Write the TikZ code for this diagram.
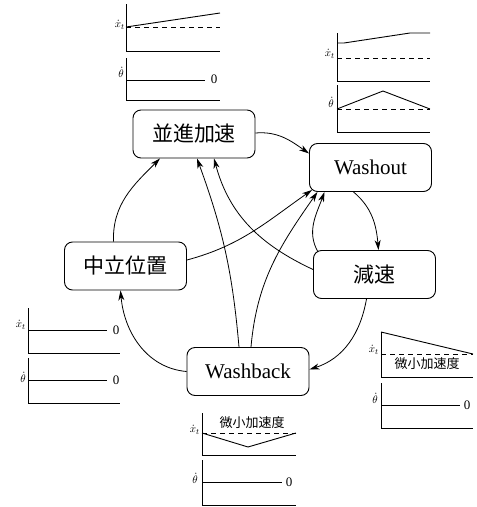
\documentclass[tikz,border=0pt]{standalone}
\usepackage{fontspec}
\setmainfont{Liberation Serif}
\newfontfamily\jp{Noto Sans CJK JP}
\usetikzlibrary{arrows.meta}
\begin{document}
\begin{tikzpicture}[x=1pt,y=1pt,
  box/.style={draw, line width=0.9pt, rounded corners=8pt, minimum width=122pt, minimum height=48pt, inner sep=0pt, font=\fontsize{21}{21}\selectfont},
  edge/.style={line width=0.8pt, -{Stealth[length=10pt,width=6pt,inset=3pt]}},
  ax/.style={line width=0.8pt},
  ln/.style={line width=0.9pt},
  dsh/.style={line width=0.8pt, dash pattern=on 5pt off 4pt},
  lbl/.style={anchor=east, inner sep=1pt, font=\fontsize{11}{11}\selectfont},
  zero/.style={inner sep=0pt, font=\fontsize{13}{13}\selectfont},
  small/.style={inner sep=0pt, font=\jp\fontsize{13}{13}\selectfont}
]
\useasboundingbox (0,0) rectangle (477,-507);

% main nodes
\node[box] (acc) at (194,-134) {\jp 並進加速};
\node[box] (wo)  at (370.5,-167.5) {Washout};
\node[box] (dec) at (374.5,-274.5) {\jp 減速};
\node[box] (neu) at (125.5,-266) {\jp 中立位置};
\node[box] (wb)  at (248,-371.5) {Washback};

% connectors
\draw[edge] ([yshift=1]acc.east) to[out=5,in=145] ([yshift=14]wo.west);
\draw[edge] ([xshift=-17]wo.south) to[out=-40,in=95] ([xshift=4]dec.north);
\draw[edge] ([shift={(5,-2)}]dec.north west) to[out=120,in=250] ([xshift=-46]wo.south);
\draw[edge] ([yshift=5]dec.west) to[out=155,in=285] ([xshift=20]acc.south);
\draw[edge] ([yshift=6]neu.east) to[out=15,in=215] ([shift={(3,2)}]wo.south west);
\draw[edge] ([xshift=-12]neu.north) to[out=92,in=225] ([xshift=-34]acc.south);
\draw[edge] ([xshift=-9]wb.north) to[out=95,in=290] ([xshift=3]acc.south);
\draw[edge] ([xshift=3]wb.north) to[out=85,in=235] ([xshift=-53]wo.south);
\draw[edge] ([xshift=-8]dec.south) to[out=-100,in=18] ([yshift=2]wb.east);
\draw[edge] (wb.west) to[out=175,in=275] ([xshift=-5]neu.south);

% chart A (translational acceleration)
\draw[ax] (126,-4) -- (126,-51) -- (220,-51);
\draw[dsh] (126,-27) -- (220,-27);
\draw[ln] (126,-27) -- (220,-13);
\node[lbl] (a1) at (126,-25) {$\dot x_t$};
\draw[ax] (126,-58) -- (126,-100) -- (220,-100);
\draw[ln] (126,-80) -- (205,-80);
\node[zero] (a0) at (214,-79) {0};
\node[lbl] (a2) at (125,-72) {$\dot\theta$};

% chart B (washout)
\draw[ax] (337,-33) -- (337,-81) -- (430,-81);
\draw[dsh] (337,-58) -- (430,-58);
\draw[ln] (337,-43) -- (344,-43) -- (410,-33) -- (430,-33);
\node[lbl] (b1) at (336,-54) {$\dot x_t$};
\draw[ax] (337,-85) -- (337,-132) -- (430,-132);
\draw[dsh] (337,-109) -- (430,-109);
\draw[ln] (337,-109) -- (383,-91) -- (430,-109);
\node[lbl] (b2) at (335,-102) {$\dot\theta$};

% chart C (neutral)
\draw[ax] (28,-308) -- (28,-353) -- (120,-353);
\draw[ln] (28,-330) -- (107,-330);
\node[zero] (c0) at (116,-330) {0};
\node[lbl] (c1) at (27,-325) {$\dot x_t$};
\draw[ax] (28,-358) -- (28,-403) -- (120,-403);
\draw[ln] (28,-380) -- (107,-380);
\node[zero] (c3) at (116,-380) {0};
\node[lbl] (c2) at (27,-377) {$\dot\theta$};

% chart D (deceleration)
\draw[ax] (381,-332) -- (381,-377) -- (473,-377);
\draw[dsh] (381,-354) -- (473,-354);
\draw[ln] (381,-332) -- (473,-354);
\node[small] (dt) at (427,-364) {微小加速度};
\node[lbl] (d1) at (380,-350) {$\dot x_t$};
\draw[ax] (381,-383) -- (381,-428) -- (473,-428);
\draw[ln] (381,-405) -- (460,-405);
\node[zero] (d0) at (467,-405) {0};
\node[lbl] (d2) at (379,-398) {$\dot\theta$};

% chart E (washback)
\draw[ax] (202,-413) -- (202,-455) -- (296,-455);
\draw[dsh] (202,-433) -- (296,-433);
\draw[ln] (202,-433) -- (248,-447) -- (296,-433);
\node[small] (et) at (252,-423) {微小加速度};
\node[lbl] (e1) at (201,-430) {$\dot x_t$};
\draw[ax] (202,-460) -- (202,-505) -- (296,-505);
\draw[ln] (202,-482) -- (282,-482);
\node[zero] (e0) at (289,-482) {0};
\node[lbl] (e2) at (199,-478) {$\dot\theta$};
\end{tikzpicture}
\end{document}
